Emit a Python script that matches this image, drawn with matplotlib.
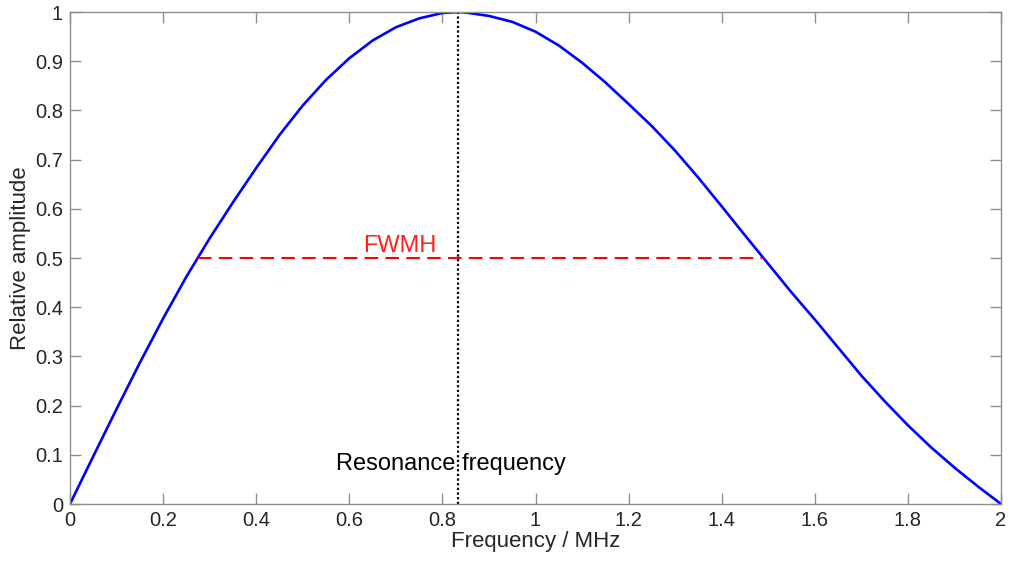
import numpy as np
import matplotlib
matplotlib.use("Agg")
import matplotlib.pyplot as plt

# ####################################################################
# DATA
freq = [0, 0.05, 0.10, 0.15, 0.20, 0.25, 0.30, 0.35, 0.40, 0.45,
        0.50, 0.55, 0.60, 0.65, 0.70, 0.75, 0.80, 0.835, 0.85, 0.90,
        0.95, 1.00, 1.05, 1.10, 1.15, 1.20, 1.25, 1.30, 1.35, 1.40,
        1.45, 1.50, 1.55, 1.60, 1.65, 1.70, 1.75, 1.80, 1.85, 1.90,
        1.95, 2.00]
amp = [0, 0.097, 0.193, 0.287, 0.377, 0.462, 0.540, 0.613, 0.683, 0.750,
       0.810, 0.862, 0.906, 0.942, 0.969, 0.987, 0.998, 1.0, 0.999, 0.992,
       0.980, 0.960, 0.932, 0.897, 0.857, 0.813, 0.768, 0.718, 0.663, 0.605,
       0.546, 0.488, 0.430, 0.375, 0.318, 0.261, 0.209, 0.160, 0.115, 0.074,
       0.036, 0.0]
f_res = 0.834
half_lo = 0.2745
half_hi = 1.489
xticks = [0, 0.2, 0.4, 0.6, 0.8, 1, 1.2, 1.4, 1.6, 1.8, 2]
xticklabels = ['0', '0.2', '0.4', '0.6', '0.8', '1', '1.2', '1.4', '1.6', '1.8', '2']
yticks = [0, 0.1, 0.2, 0.3, 0.4, 0.5, 0.6, 0.7, 0.8, 0.9, 1]
yticklabels = ['0', '0.1', '0.2', '0.3', '0.4', '0.5', '0.6', '0.7', '0.8', '0.9', '1']
# ####################################################################

plt.rcParams['font.family'] = ['Liberation Sans', 'DejaVu Sans']

fig = plt.figure(figsize=(10.12, 5.65), dpi=100)
ax = fig.add_axes([70/1012, 61/565, 931/1012, 492/565])

ax.plot(freq, amp, color='#0000ff', lw=1.9, solid_joinstyle='round')
ax.plot([f_res, f_res], [0, 1], color='black', lw=1.6, linestyle=(0, (1, 1.1)))
ax.plot([half_lo, half_hi], [0.5, 0.5], color='#ff0000', lw=1.5, dashes=(6.5, 3.5))

ax.text(0.709, 0.503, 'FWMH', color='#ff2020', fontsize=17, ha='center', va='bottom')
ax.text(0.818, 0.058, 'Resonance frequency', color='black', fontsize=17,
        ha='center', va='bottom')

ax.set_xlim(0, 2)
ax.set_ylim(0, 1)
ax.set_xticks(xticks)
ax.set_xticklabels(xticklabels)
ax.set_yticks(yticks)
ax.set_yticklabels(yticklabels)

gray = '#8f8f8f'
for s in ax.spines.values():
    s.set_color(gray)
    s.set_linewidth(1.0)
ax.tick_params(direction='in', length=8, width=1.0, color=gray, labelcolor='#262626',
               labelsize=14.5, top=True, right=True, pad=5)

ax.set_xlabel('Frequency / MHz', fontsize=16, color='#262626', labelpad=1)
ax.set_ylabel('Relative amplitude', fontsize=16, color='#262626', labelpad=3)

plt.savefig('out.png', dpi=100)
